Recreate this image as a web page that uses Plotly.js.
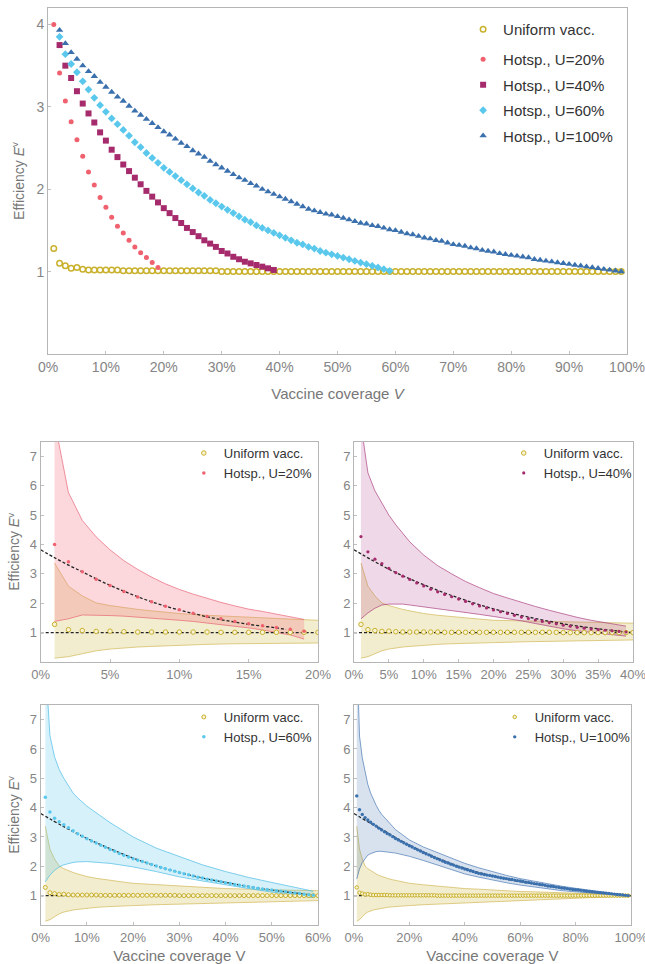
<!DOCTYPE html>
<html>
<head>
<meta charset="utf-8">
<script src="https://cdn.plot.ly/plotly-3.0.1.min.js"></script>
<style>html,body{margin:0;padding:0;background:#fff}#chart{width:645px;height:964px}</style>
</head>
<body>
<div id="chart"></div>
<script>
// Vaccine coverage levels (%)
const V = [1,2,3,4,5,6,7,8,9,10,11,12,13,14,15,16,17,18,19,20,21,22,23,24,25,26,27,28,29,30,
31,32,33,34,35,36,37,38,39,40,41,42,43,44,45,46,47,48,49,50,51,52,53,54,55,56,57,58,59,60,
61,62,63,64,65,66,67,68,69,70,71,72,73,74,75,76,77,78,79,80,81,82,83,84,85,86,87,88,89,90,
91,92,93,94,95,96,97,98,99];

// Efficiency, uniform vaccination (1%..99%)
const uniformE = [1.28,1.10,1.07,1.04,1.05,1.03,1.02,1.02,1.02,1.02,1.02,1.02,1.01,1.01,1.01,1.01,1.01,1.01,1.01,1.01,
1.01,1.01,1.01,1.01,1.01,1.01,1.01,1.01,1.01,1.00,1.00,1.00,1.00,1.00,1.00,1.00,1.00,1.00,1.00,1.00,
1.00,1.00,1.00,1.00,1.00,1.00,1.00,1.00,1.00,1.00,1.00,1.00,1.00,1.00,1.00,1.00,1.00,1.00,1.00,1.00,
1.00,1.00,1.00,1.00,1.00,1.00,1.00,1.00,1.00,1.00,1.00,1.00,1.00,1.00,1.00,1.00,1.00,1.00,1.00,1.00,
1.00,1.00,1.00,1.00,1.00,1.00,1.00,1.00,1.00,1.00,1.00,1.00,1.00,1.00,1.00,1.00,1.00,1.00,1.00];

// Hotspot vaccination efficiencies
const hot20 = [4.00,3.41,3.07,2.82,2.60,2.40,2.21,2.05,1.90,1.78,1.66,1.55,1.47,1.38,1.30,1.23,1.17,1.11,1.05];
const hot40 = [4.27,3.75,3.50,3.35,3.19,3.04,2.92,2.81,2.69,2.59,2.48,2.39,2.30,2.22,2.14,2.06,1.98,1.91,1.84,1.77,
1.71,1.65,1.59,1.53,1.48,1.43,1.38,1.34,1.30,1.25,1.22,1.18,1.15,1.12,1.10,1.08,1.06,1.04,1.02];
const hot60 = [4.35,3.85,3.64,3.52,3.42,3.31,3.21,3.11,3.02,2.94,2.86,2.79,2.72,2.65,2.57,2.51,2.44,2.38,2.32,2.26,
2.21,2.16,2.11,2.06,2.01,1.96,1.92,1.87,1.83,1.79,1.75,1.71,1.67,1.63,1.60,1.56,1.53,1.50,1.47,1.44,
1.41,1.38,1.35,1.33,1.30,1.28,1.25,1.23,1.21,1.19,1.17,1.15,1.13,1.11,1.09,1.07,1.05,1.03,1.01];
const hot100 = [4.40,3.93,3.77,3.66,3.58,3.50,3.43,3.37,3.30,3.24,3.18,3.12,3.07,3.01,2.95,2.90,2.85,2.80,2.75,2.70,
2.66,2.61,2.56,2.52,2.47,2.43,2.39,2.34,2.30,2.26,2.22,2.18,2.14,2.11,2.07,2.04,2.00,1.97,1.94,1.91,
1.88,1.85,1.82,1.79,1.76,1.74,1.72,1.70,1.69,1.67,1.65,1.63,1.61,1.59,1.58,1.56,1.55,1.53,1.51,1.50,
1.48,1.46,1.45,1.43,1.41,1.40,1.38,1.37,1.35,1.33,1.32,1.31,1.29,1.28,1.26,1.25,1.24,1.22,1.21,1.20,
1.19,1.18,1.17,1.15,1.14,1.13,1.12,1.11,1.10,1.09,1.08,1.07,1.06,1.05,1.04,1.03,1.02,1.01,1.00];

// Confidence bands
const uniBandV = [1,2,3,4,5,6,7,8,9,10,12,14,16,18,20,25,30,35,40,45,50,55,60,65,70,75,80,85,90,95,100];
const uniUpper = [3.37,2.58,2.25,2.01,1.92,1.85,1.79,1.74,1.69,1.65,1.59,1.54,1.50,1.46,1.42,1.37,1.32,1.28,1.24,1.22,1.19,1.17,1.14,1.13,1.11,1.09,1.08,1.07,1.05,1.04,1.02];
const uniLower = [0.13,0.18,0.28,0.38,0.44,0.48,0.51,0.53,0.55,0.57,0.60,0.62,0.64,0.65,0.66,0.69,0.71,0.74,0.76,0.79,0.81,0.83,0.85,0.87,0.89,0.90,0.92,0.94,0.95,0.97,0.99];

const band20V = [1,2,3,4,5,6,7,8,9,10,11,12,13,14,15,16,17,18,19];
const band20Up = [8.2,5.77,4.82,4.26,3.82,3.45,3.15,2.89,2.66,2.47,2.31,2.16,2.03,1.91,1.80,1.72,1.63,1.55,1.45];
const band20Lo = [1.38,1.47,1.60,1.60,1.58,1.56,1.53,1.50,1.46,1.42,1.38,1.33,1.28,1.22,1.16,1.09,1.01,0.92,0.78];

const band40V = [1,2,3,4,5,6,7,8,10,12,14,16,18,20,22,24,26,28,30,32,34,36,38,39];
const band40Up = [8.1,6.44,5.83,5.39,5.00,4.67,4.36,4.09,3.64,3.28,3.00,2.74,2.53,2.33,2.18,2.03,1.89,1.76,1.63,1.52,1.42,1.33,1.26,1.22];
const band40Lo = [1.47,1.67,1.83,1.94,1.97,1.98,1.97,1.94,1.88,1.82,1.75,1.68,1.62,1.55,1.48,1.40,1.31,1.21,1.13,1.06,1.01,0.96,0.91,0.88];

const band60V = [1,2,3,4,5,6,7,8,9,10,15,20,25,30,35,40,45,50,55,59];
const band60Up = [9.0,6.46,5.73,5.30,5.00,4.74,4.50,4.33,4.18,4.05,3.49,3.00,2.62,2.33,2.05,1.82,1.62,1.45,1.28,1.15];
const band60Lo = [1.47,1.70,1.86,1.98,2.05,2.10,2.13,2.15,2.16,2.16,2.10,1.98,1.82,1.64,1.50,1.36,1.24,1.12,1.02,0.93];

const band100V = [1,2,3,4,5,6,7,8,9,10,15,20,25,30,35,40,45,50,55,60,65,70,75,80,85,90,95,99];
const band100Up = [9.5,6.44,5.70,5.19,4.79,4.50,4.28,4.08,3.91,3.77,3.25,2.90,2.66,2.47,2.27,2.10,1.95,1.81,1.69,1.58,1.49,1.40,1.32,1.25,1.18,1.12,1.06,1.02];
const band100Lo = [1.57,1.91,2.13,2.27,2.38,2.43,2.47,2.50,2.51,2.51,2.45,2.34,2.20,2.04,1.89,1.74,1.63,1.53,1.44,1.36,1.29,1.22,1.17,1.13,1.09,1.06,1.03,0.99];

// Fitted (dashed) curves
const fit20V = [0,1,2,3,4,5,6,7,8,9,10,11,12,13,14,15,16,17,17.7];
const fit20E = [3.82,3.55,3.30,3.07,2.83,2.61,2.41,2.22,2.05,1.90,1.77,1.65,1.54,1.44,1.36,1.28,1.22,1.16,1.11];
const fit40V = [0,5,10,15,20,25,30,35,40];
const fit40E = [3.82,3.16,2.63,2.18,1.81,1.53,1.30,1.13,1.00];
const fit60V = [0,5,10,15,20,25,30,35,40,45,50,55,60];
const fit60E = [3.80,3.35,2.95,2.60,2.28,2.01,1.79,1.60,1.45,1.31,1.19,1.09,1.00];
const fit100V = [0,5,10,15,20,30,40,50,60,70,80,90,100];
const fit100E = [3.80,3.52,3.26,2.98,2.72,2.28,1.93,1.67,1.48,1.33,1.20,1.09,1.00];
const unitV = [0,100];
const unitE = [1,1];

const labels = ['Uniform vacc.','Hotsp., U=20%','Hotsp., U=40%','Hotsp., U=60%','Hotsp., U=100%'];
const COL = {uni:'#c9b12c', u20:'#f0616f', u40:'#a62b6d', u60:'#5ac8ec', u100:'#3a70ad'};

const traces = [];
// ---- Top panel ----
traces.push({x:V, y:uniformE, type:'scatter', mode:'markers', name:labels[0], legend:'legend',
  marker:{symbol:'circle-open', size:5.5, color:COL.uni, line:{width:1.5, color:COL.uni}}, xaxis:'x', yaxis:'y'});
traces.push({x:V.slice(0,hot20.length), y:hot20, type:'scatter', mode:'markers', name:labels[1], legend:'legend6', legendgroup:'g20',
  marker:{symbol:'circle', size:5, color:COL.u20}, xaxis:'x', yaxis:'y'});
traces.push({x:V.slice(0,hot40.length), y:hot40, type:'scatter', mode:'markers', name:labels[2], legend:'legend6', legendgroup:'g40',
  marker:{symbol:'square', size:6, color:COL.u40}, xaxis:'x', yaxis:'y'});
traces.push({x:V.slice(0,hot60.length), y:hot60, type:'scatter', mode:'markers', name:labels[3], legend:'legend6', legendgroup:'g60',
  marker:{symbol:'diamond', size:6, color:COL.u60}, xaxis:'x', yaxis:'y'});
traces.push({x:V.slice(0,hot100.length), y:hot100, type:'scatter', mode:'markers', name:labels[4], legend:'legend6', legendgroup:'g100',
  marker:{symbol:'triangle-up', size:6.5, color:COL.u100}, xaxis:'x', yaxis:'y'});

// ---- Bottom panels ----
const panels = [
  {ax:'2', leg:'legend2', hot:hot20, col:COL.u20, bV:band20V, bU:band20Up, bL:band20Lo, fV:fit20V, fE:fit20E,
   fill:'rgba(243,110,130,0.28)', edge:'rgba(230,90,110,0.8)', name:labels[1], us:4.5, hs:3.5},
  {ax:'3', leg:'legend3', hot:hot40, col:COL.u40, bV:band40V, bU:band40Up, bL:band40Lo, fV:fit40V, fE:fit40E,
   fill:'rgba(175,60,135,0.2)', edge:'rgba(165,50,120,0.8)', name:labels[2], us:4.5, hs:3.2},
  {ax:'4', leg:'legend4', hot:hot60, col:COL.u60, bV:band60V, bU:band60Up, bL:band60Lo, fV:fit60V, fE:fit60E,
   fill:'rgba(95,200,236,0.25)', edge:'rgba(80,190,230,0.9)', name:labels[3], us:4, hs:3.5},
  {ax:'5', leg:'legend5', hot:hot100, col:COL.u100, bV:band100V, bU:band100Up, bL:band100Lo, fV:fit100V, fE:fit100E,
   fill:'rgba(60,110,175,0.2)', edge:'rgba(60,110,175,0.8)', name:labels[4], us:3.5, hs:3.4}
];
panels.forEach(p => {
  const xa = 'x'+p.ax, ya = 'y'+p.ax;
  traces.push({x:uniBandV, y:uniLower, type:'scatter', mode:'lines', line:{color:'rgba(210,185,90,0.9)', width:0.8},
    showlegend:false, hoverinfo:'skip', xaxis:xa, yaxis:ya});
  traces.push({x:uniBandV, y:uniUpper, type:'scatter', mode:'lines', fill:'tonexty', fillcolor:'rgba(215,195,95,0.3)',
    line:{color:'rgba(210,185,90,0.9)', width:0.8}, showlegend:false, hoverinfo:'skip', xaxis:xa, yaxis:ya});
  traces.push({x:p.bV, y:p.bL, type:'scatter', mode:'lines', line:{color:p.edge, width:0.8},
    showlegend:false, hoverinfo:'skip', xaxis:xa, yaxis:ya});
  traces.push({x:p.bV, y:p.bU, type:'scatter', mode:'lines', fill:'tonexty', fillcolor:p.fill,
    line:{color:p.edge, width:0.8}, showlegend:false, hoverinfo:'skip', xaxis:xa, yaxis:ya});
  traces.push({x:unitV, y:unitE, type:'scatter', mode:'lines', line:{color:'#222', width:1.3, dash:'3px,2px'},
    showlegend:false, hoverinfo:'skip', xaxis:xa, yaxis:ya});
  traces.push({x:p.fV, y:p.fE, type:'scatter', mode:'lines', line:{color:'#222', width:1.3, dash:'3px,2px', shape:'spline'},
    showlegend:false, hoverinfo:'skip', xaxis:xa, yaxis:ya});
  traces.push({x:V, y:uniformE, type:'scatter', mode:'markers', name:labels[0], legend:p.leg,
    marker:{symbol:'circle', size:p.us, color:'#f8f3d6', line:{width:1, color:COL.uni}}, xaxis:xa, yaxis:ya});
  traces.push({x:V.slice(0,p.hot.length), y:p.hot, type:'scatter', mode:'markers', name:p.name, legend:p.leg,
    marker:{symbol:'circle', size:p.hs, color:p.col}, xaxis:xa, yaxis:ya});
});

const FONT = 'Liberation Sans, Arial, Helvetica, sans-serif';
const tickF = (s) => ({family:FONT, size:s, color:'#858585'});
const titleF = (s) => ({family:FONT, size:s, color:'#777'});
const baseAx = {showline:true, mirror:true, linecolor:'#b5b5b5', linewidth:1, showgrid:false, zeroline:false,
  ticks:'inside', ticklen:3, tickcolor:'#c0c0c0', ticklabeloverflow:'allow'};

const yTitle = 'Efficiency <i>E</i><sup>v</sup>';
const legFont = (s) => ({family:FONT, size:s, color:'#333'});
const layout = {
  width:645, height:964, margin:{l:0, r:0, t:0, b:0}, paper_bgcolor:'#fff', plot_bgcolor:'#fff',
  font:{family:FONT}, showlegend:true,
  xaxis: Object.assign({}, baseAx, {domain:[0.0744,0.9721], range:[0,100], dtick:10, ticksuffix:'%', tickfont:tickF(14),
    title:{text:'Vaccine coverage <i>V</i>', font:titleF(15), standoff:14}, anchor:'y'}),
  yaxis: Object.assign({}, baseAx, {domain:[0.6328,0.9917], range:[0,4.2], tickvals:[1,2,3,4], tickfont:tickF(14),
    title:{text:yTitle, font:titleF(14), standoff:8}, anchor:'x'}),
  xaxis2: Object.assign({}, baseAx, {domain:[0.0631,0.4930], range:[0,20], dtick:5, ticksuffix:'%', tickfont:tickF(13), anchor:'y2'}),
  yaxis2: Object.assign({}, baseAx, {domain:[0.3133,0.5418], range:[0,7.5], tickvals:[1,2,3,4,5,6,7], tickfont:tickF(13),
    title:{text:yTitle, font:titleF(14), standoff:6}, anchor:'x2'}),
  xaxis3: Object.assign({}, baseAx, {domain:[0.5488,0.9814], range:[0,40], dtick:5, ticksuffix:'%', tickfont:tickF(13), anchor:'y3'}),
  yaxis3: Object.assign({}, baseAx, {domain:[0.3133,0.5418], range:[0,7.5], tickvals:[1,2,3,4,5,6,7], tickfont:tickF(13), anchor:'x3'}),
  xaxis4: Object.assign({}, baseAx, {domain:[0.0631,0.4930], range:[0,60], dtick:10, ticksuffix:'%', tickfont:tickF(13), anchor:'y4',
    title:{text:'Vaccine coverage V', font:titleF(15), standoff:8}}),
  yaxis4: Object.assign({}, baseAx, {domain:[0.0405,0.2687], range:[0,7.5], tickvals:[1,2,3,4,5,6,7], tickfont:tickF(13),
    title:{text:yTitle, font:titleF(14), standoff:6}, anchor:'x4'}),
  xaxis5: Object.assign({}, baseAx, {domain:[0.5488,0.9783], range:[0,100], dtick:20, ticksuffix:'%', tickfont:tickF(13), anchor:'y5',
    title:{text:'Vaccine coverage V', font:titleF(15), standoff:8}}),
  yaxis5: Object.assign({}, baseAx, {domain:[0.0405,0.2687], range:[0,7.5], tickvals:[1,2,3,4,5,6,7], tickfont:tickF(13), anchor:'x5'}),
  legend: {x:0.718, y:0.9865, xanchor:'left', yanchor:'top', bgcolor:'rgba(0,0,0,0)', font:legFont(15)},
  legend6: {x:0.718, y:0.9554, xanchor:'left', yanchor:'top', bgcolor:'rgba(0,0,0,0)', traceorder:'grouped', tracegroupgap:3,
    font:legFont(15)},
  legend2: {x:0.285, y:0.5456, xanchor:'left', yanchor:'top', bgcolor:'rgba(0,0,0,0)', font:legFont(13)},
  legend3: {x:0.781, y:0.5456, xanchor:'left', yanchor:'top', bgcolor:'rgba(0,0,0,0)', font:legFont(13)},
  legend4: {x:0.285, y:0.2718, xanchor:'left', yanchor:'top', bgcolor:'rgba(0,0,0,0)', font:legFont(13)},
  legend5: {x:0.767, y:0.2718, xanchor:'left', yanchor:'top', bgcolor:'rgba(0,0,0,0)', font:legFont(13)}
};

Plotly.newPlot('chart', traces, layout, {displayModeBar:false, staticPlot:true});
</script>
</body>
</html>
